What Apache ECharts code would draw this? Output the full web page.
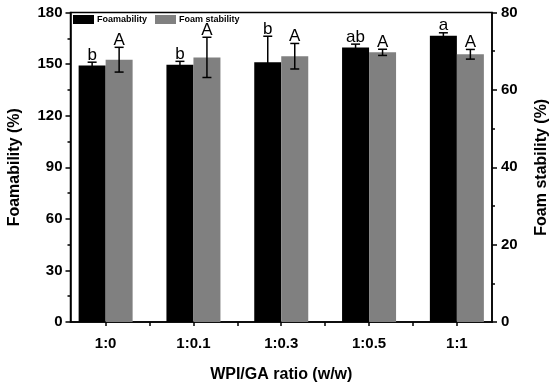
<!DOCTYPE html>
<html>
<head>
<meta charset="utf-8">
<script src="https://cdn.jsdelivr.net/npm/echarts@6/dist/echarts.min.js"></script>
<style>html,body{margin:0;padding:0;background:#fff;}#c{width:550px;height:385px;}</style>
</head>
<body>
<div id="c"></div>
<script>
// ---- data ----
const categories = ['1:0', '1:0.1', '1:0.3', '1:0.5', '1:1'];
const foamability = [149.2, 149.6, 151.1, 159.7, 166.5];
const foamabilityErr = [1.9, 2.0, 15.1, 1.9, 1.7];
const foamabilityLetters = ['b', 'b', 'b', 'ab', 'a'];
const foamStability = [67.8, 68.4, 68.7, 69.7, 69.2];
const foamStabilityErr = [3.2, 5.2, 3.3, 0.8, 1.25];
const foamStabilityLetters = ['A', 'A', 'A', 'A', 'A'];
const leftTicks = [0, 30, 60, 90, 120, 150, 180];
const rightTicks = [0, 20, 40, 60, 80];

const FONT = '"Liberation Sans", Arial, sans-serif';
const BAR_W = 27;

const xPos = categories.map((c, i) => i + 1);
const tickPos = [];
xPos.forEach((p, i) => { tickPos.push(p); if (i < xPos.length - 1) tickPos.push(p + 0.5); });

function errRender(offset) {
  return function (params, api) {
    const x = api.value(0), m = api.value(1), e = api.value(2);
    const letter = api.value(3);
    const t = api.coord([x, m + e]);
    const b = api.coord([x, m - e]);
    const cx = t[0] + offset;
    const hw = 4.5;
    const st = { stroke: '#000', lineWidth: 1.5 };
    return {
      type: 'group',
      children: [
        { type: 'line', shape: { x1: cx, y1: t[1], x2: cx, y2: b[1] }, style: st },
        { type: 'line', shape: { x1: cx - hw, y1: t[1], x2: cx + hw, y2: t[1] }, style: st },
        { type: 'line', shape: { x1: cx - hw, y1: b[1], x2: cx + hw, y2: b[1] }, style: st },
        { type: 'text', style: { text: letter, x: cx, y: t[1] + 1.5, align: 'center', verticalAlign: 'bottom',
          fontSize: 17, fontFamily: FONT, fill: '#000' } }
      ]
    };
  };
}

const chart = echarts.init(document.getElementById('c'), null, { renderer: 'canvas' });
chart.setOption({
  animation: false,
  backgroundColor: '#fff',
  textStyle: { fontFamily: FONT },
  legend: {
    left: 73, top: 15, itemWidth: 21, itemHeight: 9, itemGap: 8,
    icon: 'rect', padding: 0,
    textStyle: { fontSize: 9, fontWeight: 'bold', fontFamily: FONT, color: '#000', padding: [0, 0, 0, -2] },
    data: ['Foamability', 'Foam stability']
  },
  grid: { left: 70.5, right: 58, top: 12.5, bottom: 63, show: true, borderColor: '#000', borderWidth: 1.5,
    backgroundColor: 'transparent', containLabel: false, outerBoundsMode: 'none' },
  xAxis: {
    type: 'value', min: 0.6, max: 5.4,
    name: 'WPI/GA ratio (w/w)', nameLocation: 'middle', nameGap: 45,
    nameTextStyle: { fontSize: 16, fontWeight: 'bold', color: '#000', fontFamily: FONT },
    axisLine: { lineStyle: { color: '#000', width: 1.5 } },
    axisTick: { show: true, length: 4, customValues: tickPos, lineStyle: { color: '#000', width: 1.5 } },
    axisLabel: { customValues: xPos, margin: 14, fontSize: 15, fontWeight: 'bold', color: '#000', fontFamily: FONT,
      formatter: v => categories[Math.round(v) - 1] || '' },
    splitLine: { show: false }
  },
  yAxis: [
    {
      type: 'value', min: leftTicks[0], max: leftTicks[leftTicks.length - 1], interval: leftTicks[1] - leftTicks[0],
      name: 'Foamability (%)', nameLocation: 'middle', nameRotate: 90, nameGap: 48,
      nameTextStyle: { fontSize: 16, fontWeight: 'bold', color: '#000', fontFamily: FONT },
      axisLine: { show: true, lineStyle: { color: '#000', width: 1.5 } },
      axisTick: { show: true, length: 5, lineStyle: { color: '#000', width: 1.5 } },
      minorTick: { show: true, splitNumber: 2, length: 3, lineStyle: { color: '#000', width: 1.5 } },
      axisLabel: { margin: 8, fontSize: 15, fontWeight: 'bold', color: '#000', fontFamily: FONT },
      splitLine: { show: false }
    },
    {
      type: 'value', min: rightTicks[0], max: rightTicks[rightTicks.length - 1], interval: rightTicks[1] - rightTicks[0],
      position: 'right',
      name: 'Foam stability (%)', nameLocation: 'middle', nameRotate: 90, nameGap: 42,
      nameTextStyle: { fontSize: 16, fontWeight: 'bold', color: '#000', fontFamily: FONT },
      axisLine: { show: true, lineStyle: { color: '#000', width: 1.5 } },
      axisTick: { show: true, length: 5, lineStyle: { color: '#000', width: 1.5 } },
      minorTick: { show: true, splitNumber: 2, length: 3, lineStyle: { color: '#000', width: 1.5 } },
      axisLabel: { margin: 9, fontSize: 15, fontWeight: 'bold', color: '#000', fontFamily: FONT },
      splitLine: { show: false }
    }
  ],
  series: [
    { name: 'Foamability', type: 'bar', yAxisIndex: 0, barWidth: BAR_W, barGap: '0%',
      itemStyle: { color: '#000' }, data: foamability.map((v, i) => [xPos[i], v]) },
    { name: 'Foam stability', type: 'bar', yAxisIndex: 1, barWidth: BAR_W, barGap: '0%',
      itemStyle: { color: '#808080' }, data: foamStability.map((v, i) => [xPos[i], v]) },
    { type: 'custom', yAxisIndex: 0, z: 5, renderItem: errRender(-BAR_W / 2),
      data: foamability.map((v, i) => [xPos[i], v, foamabilityErr[i], foamabilityLetters[i]]) },
    { type: 'custom', yAxisIndex: 1, z: 5, renderItem: errRender(BAR_W / 2),
      data: foamStability.map((v, i) => [xPos[i], v, foamStabilityErr[i], foamStabilityLetters[i]]) }
  ]
});
</script>
</body>
</html>
